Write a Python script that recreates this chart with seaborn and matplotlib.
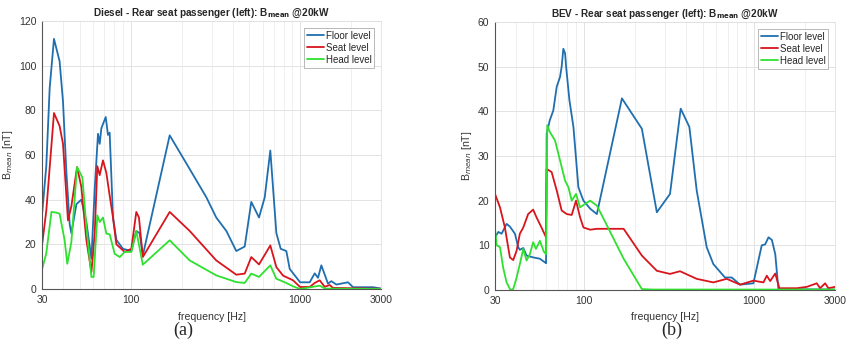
import numpy as np
import pandas as pd
import matplotlib
matplotlib.use("Agg")
import matplotlib.pyplot as plt
import seaborn as sns
from matplotlib.ticker import FixedLocator, NullFormatter

sns.set_theme(style="white")
plt.rcParams['font.family'] = ['Liberation Sans', 'DejaVu Sans']

levels = ["Floor level", "Seat level", "Head level"]
colors = ["#1f6fb0", "#d8151c", "#2fe02f"]

# ---- Diesel panel ----
d_floor_f = [30, 31.8, 33.3, 35.3, 38.1, 39.9, 41.8, 43.7, 44.7, 47.9, 51.2, 54.8, 58.7, 61.4, 64.2, 65.7, 67.2,
             71.3, 73.5, 75.2, 78.7, 82.4, 90.1, 101, 108, 113, 118, 170, 218, 280, 320, 367, 420, 471, 515,
             572, 618, 667, 724, 768, 829, 868, 1000, 1139, 1219, 1275, 1334, 1460, 1528, 1636, 1916, 2052, 2692, 3000]
d_floor_v = [33, 55, 90, 112, 102, 84, 52, 29, 25, 38, 40, 30, 13.6, 45, 69.5, 65, 72,
             77, 69, 70, 32, 22, 18, 17, 26, 25, 15, 68.8, 55, 41, 32, 26, 17, 19, 39,
             32, 41, 62, 25, 18, 17, 9, 3, 3, 7, 5, 10.6, 2.4, 3.5, 2, 3, 0.8, 0.8, 0.2]
d_seat_f = [30, 31.8, 35.3, 38.1, 39.9, 42.7, 44.7, 48.3, 51.2, 54.8, 58.7, 61.4, 63.6, 65.7, 68.7, 71.9, 74.5,
            78.7, 82.4, 92.2, 101, 108, 112, 118, 170, 223, 320, 420, 471, 515, 572, 667, 724, 793, 908,
            1000, 1139, 1219, 1304, 1396, 1494, 1563, 3000]
d_seat_v = [19.5, 35, 78.8, 73, 65, 30.7, 37, 54.6, 45.7, 22, 7.6, 25, 55, 51, 57.6, 52, 44,
            32, 20, 16.6, 18, 34.5, 32, 14.3, 34.5, 26, 12.8, 6.4, 6.9, 14.3, 11, 19.5, 9.8, 6, 3.9,
            0.9, 0.9, 2.7, 3.9, 1.0, 1.8, 0.5, 0.1]
d_head_f = [30, 31.8, 34.1, 36.5, 38.1, 40.8, 42.3, 44.7, 48.3, 51.9, 54.8, 58.7, 60.5, 63.6, 65.7, 68.7,
            71.9, 75.2, 80.5, 86.2, 92.2, 101, 108, 118, 170, 223, 320, 420, 471, 515, 572, 667, 724, 829,
            908, 1000, 1304, 1400, 3000]
d_head_v = [8.7, 16, 34.5, 34.2, 33.7, 21.8, 11.3, 21, 54.6, 50, 28, 5.4, 5.4, 33, 30, 32,
            24.8, 24.5, 15.8, 14.3, 16.6, 16.6, 26, 10.9, 21.8, 12.8, 6.1, 3.1, 2.7, 6.9, 5.4, 10.6, 4.6, 2.7,
            1.2, 0.0, 1.5, 0.2, 0.0]

# ---- BEV panel ----
b_floor_f = [30, 31.4, 32.8, 35.1, 36.7, 39.3, 41.1, 42.0, 44.0, 46.0, 50.3, 55.1, 58.9, 59.9, 60.4, 63.0,
             66.1, 69.2, 72.4, 74.0, 75.7, 77.5, 78.6, 82.2, 86.8, 92.8, 99.4, 108.9, 119.2, 167.4, 219.3,
             268.6, 321.0, 371.1, 417.3, 460.8, 527.6, 577.4, 676, 740.7, 829.2, 993.6, 1112, 1164, 1219,
             1276, 1336, 1393, 1425, 3000]
b_floor_v = [11.8, 13, 12.6, 14.8, 14.2, 12.6, 9.6, 9.0, 9.4, 7.7, 7.3, 7.0, 6.2, 6.0, 35, 38,
             40.2, 45.5, 47.7, 50, 54, 53, 50, 42.5, 36.5, 23, 20, 18.2, 17, 42.9, 36.1,
             17.4, 21.5, 40.6, 36.5, 22.3, 9.6, 5.8, 2.8, 2.8, 1.2, 1.5, 10, 10.2, 11.8,
             11.2, 8, 0.3, 0.2, 0.1]
b_seat_f = [30, 32.1, 34.3, 36.7, 38.4, 40.2, 42.0, 44.0, 47.0, 50.3, 52.6, 56.3, 59.9, 60.4, 64.6, 69.2,
            74.0, 79.3, 84.8, 89.9, 94.9, 99.4, 108.9, 119.2, 171.3, 219.3, 268.6, 321.0, 367.7, 460.8,
            577.4, 691.9, 829.2, 993.6, 1138, 1191, 1247, 1336, 1412, 1786, 2046, 2343, 2452, 2624, 2744, 3000]
b_seat_v = [21.5, 18.5, 14, 7.3, 6.7, 8.8, 12.6, 14, 17, 18, 16.3, 14, 11.8, 27.1, 26.4, 22.3,
            17.8, 17, 16.8, 20, 16.3, 14, 13.5, 13.7, 13.7, 7.7, 4.3, 3.6, 4.2, 2.5,
            1.7, 2.5, 1.2, 2.1, 1.7, 3.2, 2.0, 3.7, 0.4, 0.4, 0.7, 1.5, 0.4, 1.5, 0.4, 0.7]
b_head_f = [30, 30.7, 32.1, 33.5, 35.1, 37.0, 38.4, 40.2, 42.0, 44.0, 46.0, 48.1, 50.3, 52.2, 55.1, 58.1,
            59.9, 60.9, 63.0, 67.6, 72.4, 77.5, 81.1, 84.8, 89.9, 94.9, 101.7, 108.9, 119.2, 133.6, 171.3,
            219.3, 256.8, 3000]
b_head_v = [13.7, 10, 9.6, 5, 1.7, 0, 0.2, 2.8, 5.8, 9.2, 6.6, 8, 10.7, 9.2, 11, 8.6,
            8, 36.9, 35.4, 33.5, 29, 24.5, 23, 20, 21.5, 18.5, 19.3, 20, 18.9, 15.2, 7,
            0.2, 0.1, 0.1]


def make_df(series):
    frames = []
    for name, (f, v) in zip(levels, series):
        frames.append(pd.DataFrame({"freq": f, "val": v, "level": name}))
    return pd.concat(frames, ignore_index=True)


df_d = make_df([(d_floor_f, d_floor_v), (d_seat_f, d_seat_v), (d_head_f, d_head_v)])
df_b = make_df([(b_floor_f, b_floor_v), (b_seat_f, b_seat_v), (b_head_f, b_head_v)])

fig = plt.figure(figsize=(8.47, 3.44), dpi=100)
ax1 = fig.add_axes([42 / 847, 1 - 289 / 344, 339 / 847, 268 / 344])
ax2 = fig.add_axes([495 / 847, 1 - 290 / 344, 340 / 847, 268 / 344])

palette = dict(zip(levels, colors))
panels = [
    (ax1, df_d, 120, np.arange(0, 121, 20), "Diesel - Rear seat passenger (left): B$_{\\mathbf{mean}}$ @20kW", "(a)", 183),
    (ax2, df_b, 60, np.arange(0, 61, 10), "BEV - Rear seat passenger (left): B$_{\\mathbf{mean}}$ @20kW", "(b)", 672),
]
for ax, df, ymax, yticks, title, cap, capx in panels:
    sns.lineplot(data=df, x="freq", y="val", hue="level", hue_order=levels, palette=palette,
                 sort=False, estimator=None, linewidth=1.3, ax=ax)
    ax.set_xscale("log")
    ax.set_xlim(30, 3000)
    ax.set_ylim(0, ymax)
    ax.set_yticks(yticks)
    ax.xaxis.set_major_locator(FixedLocator([30, 100, 1000, 3000]))
    ax.set_xticklabels(["30", "100", "1000", "3000"])
    minors = [f for dec in (10, 100, 1000) for f in np.arange(2, 10) * dec if 30 < f < 3000 and f not in (100, 1000)]
    ax.xaxis.set_minor_locator(FixedLocator(minors))
    ax.xaxis.set_minor_formatter(NullFormatter())
    ax.grid(True, which="major", color="#e3e3e3", linewidth=0.7)
    ax.grid(True, which="minor", axis="x", color="#ececec", linewidth=0.6)
    ax.set_axisbelow(True)
    ax.tick_params(axis="both", labelsize=7.5, colors="#333333", length=2, pad=2)
    ax.tick_params(axis="x", which="minor", length=0)
    for s in ("left", "bottom"):
        ax.spines[s].set_color("#555555")
        ax.spines[s].set_linewidth(0.8)
    for s in ("top", "right"):
        ax.spines[s].set_color("#e0e0e0")
        ax.spines[s].set_linewidth(0.6)
    ax.set_xlabel("frequency [Hz]", fontsize=7.6, color="#333333", labelpad=5)
    ax.set_ylabel("B$_{mean}$ [nT]", fontsize=7.6, color="#333333", labelpad=3)
    ax.set_title(title, fontsize=7.2, fontweight="bold", pad=4)
    leg = ax.legend(loc="upper right", fontsize=7, frameon=True, fancybox=False,
                    edgecolor="#999999", handlelength=1.7, borderpad=0.3, labelspacing=0.2,
                    handletextpad=0.2, borderaxespad=0.7)
    leg.get_frame().set_linewidth(0.6)
    fig.text(capx / 847, 1 - 330 / 344, cap, ha="center", va="center",
             fontsize=13, family="Liberation Serif")

fig.savefig("out.png", dpi=100)
